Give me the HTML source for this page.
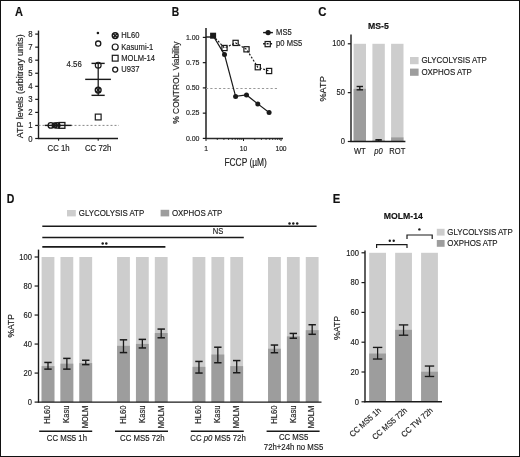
<!DOCTYPE html>
<html><head><meta charset="utf-8"><style>
html,body{margin:0;padding:0;background:#fff;}
body{width:520px;height:457px;overflow:hidden;position:relative;}
svg{display:block;font-family:"Liberation Sans",sans-serif;filter:blur(0.3px);}
.frame{position:absolute;left:0;top:0;width:520px;height:457px;box-sizing:border-box;border:1px solid #111;}
</style></head><body>
<svg width="520" height="457" viewBox="0 0 520 457">
<rect x="-5" y="-5" width="530" height="467" fill="#fff"/>
<text x="0" y="0" transform="translate(14.9,15.70) scale(0.92,1.0)" font-size="12" text-anchor="start" font-weight="bold" fill="#111" stroke="#111" stroke-width="0.15"  style="">A</text>
<line x1="38.5" y1="30.6" x2="38.5" y2="139.0" stroke="#1a1a1a" stroke-width="1.40" />
<line x1="37.9" y1="138.5" x2="118" y2="138.5" stroke="#1a1a1a" stroke-width="1.40" />
<line x1="35.2" y1="138.5" x2="38.5" y2="138.5" stroke="#1a1a1a" stroke-width="1.20" />
<text x="0" y="0" transform="translate(32.7,141.50) scale(1.0,1.08)" font-size="7.8" text-anchor="end" font-weight="normal" fill="#222" stroke="#222" stroke-width="0.15"  style="">0</text>
<line x1="35.2" y1="125.45" x2="38.5" y2="125.45" stroke="#1a1a1a" stroke-width="1.20" />
<text x="0" y="0" transform="translate(32.7,128.45) scale(1.0,1.08)" font-size="7.8" text-anchor="end" font-weight="normal" fill="#222" stroke="#222" stroke-width="0.15"  style="">1</text>
<line x1="35.2" y1="112.4" x2="38.5" y2="112.4" stroke="#1a1a1a" stroke-width="1.20" />
<text x="0" y="0" transform="translate(32.7,115.40) scale(1.0,1.08)" font-size="7.8" text-anchor="end" font-weight="normal" fill="#222" stroke="#222" stroke-width="0.15"  style="">2</text>
<line x1="35.2" y1="99.35" x2="38.5" y2="99.35" stroke="#1a1a1a" stroke-width="1.20" />
<text x="0" y="0" transform="translate(32.7,102.35) scale(1.0,1.08)" font-size="7.8" text-anchor="end" font-weight="normal" fill="#222" stroke="#222" stroke-width="0.15"  style="">3</text>
<line x1="35.2" y1="86.3" x2="38.5" y2="86.3" stroke="#1a1a1a" stroke-width="1.20" />
<text x="0" y="0" transform="translate(32.7,89.30) scale(1.0,1.08)" font-size="7.8" text-anchor="end" font-weight="normal" fill="#222" stroke="#222" stroke-width="0.15"  style="">4</text>
<line x1="35.2" y1="73.25" x2="38.5" y2="73.25" stroke="#1a1a1a" stroke-width="1.20" />
<text x="0" y="0" transform="translate(32.7,76.25) scale(1.0,1.08)" font-size="7.8" text-anchor="end" font-weight="normal" fill="#222" stroke="#222" stroke-width="0.15"  style="">5</text>
<line x1="35.2" y1="60.19999999999999" x2="38.5" y2="60.19999999999999" stroke="#1a1a1a" stroke-width="1.20" />
<text x="0" y="0" transform="translate(32.7,63.20) scale(1.0,1.08)" font-size="7.8" text-anchor="end" font-weight="normal" fill="#222" stroke="#222" stroke-width="0.15"  style="">6</text>
<line x1="35.2" y1="47.14999999999999" x2="38.5" y2="47.14999999999999" stroke="#1a1a1a" stroke-width="1.20" />
<text x="0" y="0" transform="translate(32.7,50.15) scale(1.0,1.08)" font-size="7.8" text-anchor="end" font-weight="normal" fill="#222" stroke="#222" stroke-width="0.15"  style="">7</text>
<line x1="35.2" y1="34.099999999999994" x2="38.5" y2="34.099999999999994" stroke="#1a1a1a" stroke-width="1.20" />
<text x="0" y="0" transform="translate(32.7,37.10) scale(1.0,1.08)" font-size="7.8" text-anchor="end" font-weight="normal" fill="#222" stroke="#222" stroke-width="0.15"  style="">8</text>
<line x1="38.5" y1="125.4" x2="119" y2="125.4" stroke="#888" stroke-width="1.00" stroke-dasharray="2,2"/>
<line x1="58.6" y1="138.5" x2="58.6" y2="140.7" stroke="#1a1a1a" stroke-width="1.10" />
<text x="0" y="0" transform="translate(58.6,151.30) scale(1.0,1.08)" font-size="7.8" text-anchor="middle" font-weight="normal" fill="#222" stroke="#222" stroke-width="0.15"  style="">CC 1h</text>
<line x1="98.2" y1="138.5" x2="98.2" y2="140.7" stroke="#1a1a1a" stroke-width="1.10" />
<text x="0" y="0" transform="translate(98.2,151.30) scale(1.0,1.08)" font-size="7.8" text-anchor="middle" font-weight="normal" fill="#222" stroke="#222" stroke-width="0.15"  style="">CC 72h</text>
<text x="0" y="0" font-size="8.9" text-anchor="middle" font-weight="normal" fill="#222" stroke="#222" stroke-width="0.15" transform="translate(23.1,86.2) rotate(-90) translate(0,-0.3) scale(1,1.08)">ATP levels (arbitrary units)</text>
<line x1="44.8" y1="125.4" x2="71.5" y2="125.4" stroke="#1a1a1a" stroke-width="1.40" />
<circle cx="50.8" cy="125.4" r="2.7" fill="none" stroke="#1a1a1a" stroke-width="1.3"/>
<circle cx="54.6" cy="125.4" r="2.4" fill="none" stroke="#1a1a1a" stroke-width="1.3"/>
<circle cx="57.2" cy="125.4" r="2.7" fill="none" stroke="#1a1a1a" stroke-width="1.4"/>
<path d="M55.3,123.5L59.1,127.30000000000001M59.1,123.5L55.3,127.30000000000001" stroke="#1a1a1a" stroke-width="1.2"/>
<rect x="59.0" y="122.5" width="5.9" height="5.8" fill="none" stroke="#1a1a1a" stroke-width="1.3"/>
<line x1="98.2" y1="63.382" x2="98.2" y2="95.346" stroke="#1a1a1a" stroke-width="1.30" />
<line x1="91.5" y1="63.382" x2="104.7" y2="63.382" stroke="#1a1a1a" stroke-width="1.40" />
<line x1="91.5" y1="95.346" x2="104.7" y2="95.346" stroke="#1a1a1a" stroke-width="1.40" />
<line x1="85.2" y1="79.364" x2="110.9" y2="79.364" stroke="#1a1a1a" stroke-width="1.40" />
<circle cx="98.2" cy="43.6" r="2.6" fill="none" stroke="#1a1a1a" stroke-width="1.3"/>
<circle cx="98.2" cy="65.14" r="2.9" fill="none" stroke="#1a1a1a" stroke-width="1.2"/>
<circle cx="98.2" cy="90.03" r="2.9" fill="none" stroke="#1a1a1a" stroke-width="1.4"/>
<path d="M96.2,88.03L100.2,92.03M100.2,88.03L96.2,92.03" stroke="#1a1a1a" stroke-width="1.3"/>
<rect x="95.3" y="114.116" width="5.8" height="5.8" fill="none" stroke="#1a1a1a" stroke-width="1.2"/>
<circle cx="97.9" cy="33" r="1.3" fill="#1a1a1a"/>
<text x="0" y="0" transform="translate(74.2,66.90) scale(1.0,1.08)" font-size="7.8" text-anchor="middle" font-weight="normal" fill="#222" stroke="#222" stroke-width="0.15"  style="">4.56</text>
<circle cx="115.2" cy="35.6" r="2.9" fill="none" stroke="#1a1a1a" stroke-width="1.5"/>
<path d="M113.3,33.7L117.10000000000001,37.5M117.10000000000001,33.7L113.3,37.5" stroke="#1a1a1a" stroke-width="1.4"/>
<circle cx="115.2" cy="47.0" r="3.0" fill="none" stroke="#1a1a1a" stroke-width="1.2"/>
<rect x="112.3" y="55.300000000000004" width="5.8" height="5.8" fill="none" stroke="#1a1a1a" stroke-width="1.2"/>
<circle cx="115.2" cy="69.6" r="2.5" fill="none" stroke="#1a1a1a" stroke-width="1.3"/>
<text x="0" y="0" transform="translate(121.3,38.30) scale(1.0,1.08)" font-size="7.6" text-anchor="start" font-weight="normal" fill="#222" stroke="#222" stroke-width="0.15"  style="">HL60</text>
<text x="0" y="0" transform="translate(121.3,49.70) scale(1.0,1.08)" font-size="7.6" text-anchor="start" font-weight="normal" fill="#222" stroke="#222" stroke-width="0.15"  style="">Kasumi-1</text>
<text x="0" y="0" transform="translate(121.3,60.90) scale(1.0,1.08)" font-size="7.6" text-anchor="start" font-weight="normal" fill="#222" stroke="#222" stroke-width="0.15"  style="">MOLM-14</text>
<text x="0" y="0" transform="translate(121.3,72.30) scale(1.0,1.08)" font-size="7.6" text-anchor="start" font-weight="normal" fill="#222" stroke="#222" stroke-width="0.15"  style="">U937</text>
<text x="0" y="0" transform="translate(171.8,15.70) scale(0.86,1.0)" font-size="12" text-anchor="start" font-weight="bold" fill="#111" stroke="#111" stroke-width="0.15"  style="">B</text>
<line x1="206.0" y1="28.0" x2="206.0" y2="138.9" stroke="#3a3a3a" stroke-width="1.70" />
<line x1="205.4" y1="138.4" x2="283" y2="138.4" stroke="#2a2a2a" stroke-width="1.50" />
<line x1="202.8" y1="138.4" x2="206.0" y2="138.4" stroke="#1a1a1a" stroke-width="1.20" />
<text x="0" y="0" transform="translate(199.5,140.60) scale(1.0,1.08)" font-size="7.0" text-anchor="end" font-weight="normal" fill="#222" stroke="#222" stroke-width="0.15"  style="">0.00</text>
<line x1="202.8" y1="113.15" x2="206.0" y2="113.15" stroke="#1a1a1a" stroke-width="1.20" />
<text x="0" y="0" transform="translate(199.5,115.35) scale(1.0,1.08)" font-size="7.0" text-anchor="end" font-weight="normal" fill="#222" stroke="#222" stroke-width="0.15"  style="">0.25</text>
<line x1="202.8" y1="87.9" x2="206.0" y2="87.9" stroke="#1a1a1a" stroke-width="1.20" />
<text x="0" y="0" transform="translate(199.5,90.10) scale(1.0,1.08)" font-size="7.0" text-anchor="end" font-weight="normal" fill="#222" stroke="#222" stroke-width="0.15"  style="">0.50</text>
<line x1="202.8" y1="62.650000000000006" x2="206.0" y2="62.650000000000006" stroke="#1a1a1a" stroke-width="1.20" />
<text x="0" y="0" transform="translate(199.5,64.85) scale(1.0,1.08)" font-size="7.0" text-anchor="end" font-weight="normal" fill="#222" stroke="#222" stroke-width="0.15"  style="">0.75</text>
<line x1="202.8" y1="37.400000000000006" x2="206.0" y2="37.400000000000006" stroke="#1a1a1a" stroke-width="1.20" />
<text x="0" y="0" transform="translate(199.5,39.60) scale(1.0,1.08)" font-size="7.0" text-anchor="end" font-weight="normal" fill="#222" stroke="#222" stroke-width="0.15"  style="">1.00</text>
<line x1="206.0" y1="138.4" x2="206.0" y2="141.0" stroke="#1a1a1a" stroke-width="1.00" />
<line x1="217.28862483739928" y1="138.4" x2="217.28862483739928" y2="139.8" stroke="#1a1a1a" stroke-width="1.00" />
<line x1="223.89204705198733" y1="138.4" x2="223.89204705198733" y2="139.8" stroke="#1a1a1a" stroke-width="1.00" />
<line x1="228.5772496747986" y1="138.4" x2="228.5772496747986" y2="139.8" stroke="#1a1a1a" stroke-width="1.00" />
<line x1="232.21137516260072" y1="138.4" x2="232.21137516260072" y2="139.8" stroke="#1a1a1a" stroke-width="1.00" />
<line x1="235.18067188938664" y1="138.4" x2="235.18067188938664" y2="139.8" stroke="#1a1a1a" stroke-width="1.00" />
<line x1="237.69117650053462" y1="138.4" x2="237.69117650053462" y2="139.8" stroke="#1a1a1a" stroke-width="1.00" />
<line x1="239.86587451219788" y1="138.4" x2="239.86587451219788" y2="139.8" stroke="#1a1a1a" stroke-width="1.00" />
<line x1="241.78409410397467" y1="138.4" x2="241.78409410397467" y2="139.8" stroke="#1a1a1a" stroke-width="1.00" />
<line x1="243.5" y1="138.4" x2="243.5" y2="141.0" stroke="#1a1a1a" stroke-width="1.00" />
<line x1="254.7886248373993" y1="138.4" x2="254.7886248373993" y2="139.8" stroke="#1a1a1a" stroke-width="1.00" />
<line x1="261.39204705198733" y1="138.4" x2="261.39204705198733" y2="139.8" stroke="#1a1a1a" stroke-width="1.00" />
<line x1="266.0772496747986" y1="138.4" x2="266.0772496747986" y2="139.8" stroke="#1a1a1a" stroke-width="1.00" />
<line x1="269.7113751626007" y1="138.4" x2="269.7113751626007" y2="139.8" stroke="#1a1a1a" stroke-width="1.00" />
<line x1="272.68067188938664" y1="138.4" x2="272.68067188938664" y2="139.8" stroke="#1a1a1a" stroke-width="1.00" />
<line x1="275.19117650053465" y1="138.4" x2="275.19117650053465" y2="139.8" stroke="#1a1a1a" stroke-width="1.00" />
<line x1="277.3658745121979" y1="138.4" x2="277.3658745121979" y2="139.8" stroke="#1a1a1a" stroke-width="1.00" />
<line x1="279.28409410397467" y1="138.4" x2="279.28409410397467" y2="139.8" stroke="#1a1a1a" stroke-width="1.00" />
<line x1="281.0" y1="138.4" x2="281.0" y2="141.0" stroke="#1a1a1a" stroke-width="1.00" />
<text x="0" y="0" transform="translate(206.0,151.30) scale(1.0,1.15)" font-size="6.7" text-anchor="middle" font-weight="normal" fill="#222" stroke="#222" stroke-width="0.15"  style="">1</text>
<text x="0" y="0" transform="translate(243.5,151.30) scale(1.0,1.15)" font-size="6.7" text-anchor="middle" font-weight="normal" fill="#222" stroke="#222" stroke-width="0.15"  style="">10</text>
<text x="0" y="0" transform="translate(281.0,151.30) scale(1.0,1.15)" font-size="6.7" text-anchor="middle" font-weight="normal" fill="#222" stroke="#222" stroke-width="0.15"  style="">100</text>
<text x="0" y="0" transform="translate(245.6,165.50) scale(1.0,1.2)" font-size="8.4" text-anchor="middle" font-weight="normal" fill="#222" stroke="#222" stroke-width="0.15"  style="">FCCP (µM)</text>
<text x="0" y="0" font-size="8.45" text-anchor="middle" font-weight="normal" fill="#222" stroke="#222" stroke-width="0.15" transform="translate(179.6,82.7) rotate(-90) translate(0,-0.3) scale(1,1.12)">% CONTROL Viability</text>
<line x1="206.0" y1="88.5" x2="279" y2="88.5" stroke="#999" stroke-width="1.10" stroke-dasharray="2.2,2.1"/>
<line x1="206.0" y1="37.0" x2="211.1" y2="37.0" stroke="#1a1a1a" stroke-width="1.40" />
<polyline points="213.1,35.7 224.5,48.0 235.6,42.9 246.5,49.3 257.8,67.2 269.1,71.0" fill="none" stroke="#1a1a1a" stroke-width="1.2" stroke-dasharray="2,1.6"/>
<polyline points="213.1,35.7 224.5,54.6 235.6,96.4 246.5,95.0 257.8,103.9 269.1,112.5" fill="none" stroke="#1a1a1a" stroke-width="1.2"/>
<rect x="221.9" y="45.4" width="5.2" height="5.2" fill="none" stroke="#1a1a1a" stroke-width="1.2"/>
<rect x="233.0" y="40.3" width="5.2" height="5.2" fill="none" stroke="#1a1a1a" stroke-width="1.2"/>
<rect x="243.9" y="46.699999999999996" width="5.2" height="5.2" fill="none" stroke="#1a1a1a" stroke-width="1.2"/>
<rect x="255.20000000000002" y="64.60000000000001" width="5.2" height="5.2" fill="none" stroke="#1a1a1a" stroke-width="1.2"/>
<rect x="266.5" y="68.4" width="5.2" height="5.2" fill="none" stroke="#1a1a1a" stroke-width="1.2"/>
<circle cx="224.5" cy="54.6" r="2.5" fill="#1a1a1a"/>
<circle cx="235.6" cy="96.4" r="2.5" fill="#1a1a1a"/>
<circle cx="246.5" cy="95.0" r="2.5" fill="#1a1a1a"/>
<circle cx="257.8" cy="103.9" r="2.5" fill="#1a1a1a"/>
<circle cx="269.1" cy="112.5" r="2.5" fill="#1a1a1a"/>
<rect x="210.1" y="32.7" width="6" height="6" fill="#1a1a1a"/>
<line x1="263.1" y1="32.6" x2="272.9" y2="32.6" stroke="#1a1a1a" stroke-width="1.40" />
<circle cx="268.1" cy="32.6" r="2.6" fill="#1a1a1a"/>
<text x="0" y="0" transform="translate(276.1,34.90) scale(1.0,1.08)" font-size="7.6" text-anchor="start" font-weight="normal" fill="#222" stroke="#222" stroke-width="0.15"  style="">MS5</text>
<line x1="263.1" y1="43.7" x2="272.9" y2="43.7" stroke="#1a1a1a" stroke-width="1.40" stroke-dasharray="2,1.5"/>
<rect x="265.09999999999997" y="41.5" width="5.2" height="5.2" fill="none" stroke="#1a1a1a" stroke-width="1.2"/>
<text x="0" y="0" transform="translate(276.1,46.00) scale(1.0,1.08)" font-size="7.6" text-anchor="start" font-weight="normal" fill="#222" stroke="#222" stroke-width="0.15"  style="">p0 MS5</text>
<text x="0" y="0" transform="translate(318.3,15.80) scale(0.95,1.0)" font-size="12" text-anchor="start" font-weight="bold" fill="#111" stroke="#111" stroke-width="0.15"  style="">C</text>
<text x="0" y="0" transform="translate(378.4,29.20) scale(1.0,1.0)" font-size="8.7" text-anchor="middle" font-weight="bold" fill="#111" stroke="#111" stroke-width="0.15"  style="">MS-5</text>
<rect x="353.6" y="43.8" width="12.4" height="97.7" fill="#cdcdcd" />
<rect x="353.6" y="88.8397" width="12.4" height="52.66030000000001" fill="#9d9d9d" />
<line x1="359.8" y1="86.4949" x2="359.8" y2="89.8167" stroke="#1a1a1a" stroke-width="1.30" />
<line x1="356.6" y1="86.4949" x2="363.0" y2="86.4949" stroke="#1a1a1a" stroke-width="1.40" />
<line x1="356.6" y1="89.8167" x2="363.0" y2="89.8167" stroke="#1a1a1a" stroke-width="1.40" />
<rect x="372.4" y="43.8" width="12.4" height="97.7" fill="#cdcdcd" />
<rect x="372.4" y="140.523" width="12.4" height="0.9770000000000039" fill="#9d9d9d" />
<line x1="378.59999999999997" y1="139.7414" x2="378.59999999999997" y2="141.1092" stroke="#1a1a1a" stroke-width="1.30" />
<line x1="375.4" y1="139.7414" x2="381.79999999999995" y2="139.7414" stroke="#1a1a1a" stroke-width="1.40" />
<line x1="375.4" y1="141.1092" x2="381.79999999999995" y2="141.1092" stroke="#1a1a1a" stroke-width="1.40" />
<rect x="391.1" y="43.8" width="12.4" height="97.7" fill="#cdcdcd" />
<rect x="391.1" y="137.3966" width="12.4" height="4.1033999999999935" fill="#9d9d9d" />
<line x1="351.0" y1="34.4" x2="351.0" y2="142.0" stroke="#1a1a1a" stroke-width="1.40" />
<line x1="350.4" y1="141.5" x2="405.4" y2="141.5" stroke="#1a1a1a" stroke-width="1.40" />
<line x1="347.8" y1="141.5" x2="351.0" y2="141.5" stroke="#1a1a1a" stroke-width="1.20" />
<text x="0" y="0" transform="translate(345.0,143.90) scale(1.0,1.08)" font-size="7.6" text-anchor="end" font-weight="normal" fill="#222" stroke="#222" stroke-width="0.15"  style="">0</text>
<line x1="347.8" y1="92.65" x2="351.0" y2="92.65" stroke="#1a1a1a" stroke-width="1.20" />
<text x="0" y="0" transform="translate(345.0,95.05) scale(1.0,1.08)" font-size="7.6" text-anchor="end" font-weight="normal" fill="#222" stroke="#222" stroke-width="0.15"  style="">50</text>
<line x1="347.8" y1="43.8" x2="351.0" y2="43.8" stroke="#1a1a1a" stroke-width="1.20" />
<text x="0" y="0" transform="translate(345.0,46.20) scale(1.0,1.08)" font-size="7.6" text-anchor="end" font-weight="normal" fill="#222" stroke="#222" stroke-width="0.15"  style="">100</text>
<text x="0" y="0" transform="translate(359.8,153.90) scale(1.0,1.08)" font-size="7.6" text-anchor="middle" font-weight="normal" fill="#222" stroke="#222" stroke-width="0.15"  style="">WT</text>
<text x="0" y="0" transform="translate(378.5,153.90) scale(1.0,1.08)" font-size="7.6" text-anchor="middle" font-weight="normal" fill="#222" stroke="#222" stroke-width="0.15"  style="font-style:italic">p0</text>
<text x="0" y="0" transform="translate(397.3,153.90) scale(1.0,1.08)" font-size="7.6" text-anchor="middle" font-weight="normal" fill="#222" stroke="#222" stroke-width="0.15"  style="">ROT</text>
<text x="0" y="0" font-size="9.2" text-anchor="middle" font-weight="normal" fill="#222" stroke="#222" stroke-width="0.15" transform="translate(326.2,88.9) rotate(-90) translate(0,-0.3) scale(1,1.08)">%ATP</text>
<rect x="410.0" y="57.0" width="8.6" height="7.2" fill="#cdcdcd" />
<rect x="410.0" y="68.6" width="8.6" height="7.2" fill="#9d9d9d" />
<text x="0" y="0" transform="translate(421.4,63.00) scale(1.0,1.08)" font-size="7.9" text-anchor="start" font-weight="normal" fill="#222" stroke="#222" stroke-width="0.15"  style="">GLYCOLYSIS ATP</text>
<text x="0" y="0" transform="translate(421.4,74.50) scale(1.0,1.08)" font-size="7.9" text-anchor="start" font-weight="normal" fill="#222" stroke="#222" stroke-width="0.15"  style="">OXPHOS ATP</text>
<text x="0" y="0" transform="translate(6.8,202.90) scale(0.88,1.0)" font-size="12" text-anchor="start" font-weight="bold" fill="#111" stroke="#111" stroke-width="0.15"  style="">D</text>
<rect x="67.0" y="210.0" width="8.8" height="6.4" fill="#cdcdcd" />
<text x="0" y="0" transform="translate(78.8,215.70) scale(1.0,1.08)" font-size="7.9" text-anchor="start" font-weight="normal" fill="#222" stroke="#222" stroke-width="0.15"  style="">GLYCOLYSIS ATP</text>
<rect x="160.6" y="209.8" width="8.6" height="6.6" fill="#9d9d9d" />
<text x="0" y="0" transform="translate(171.9,215.70) scale(1.0,1.08)" font-size="7.9" text-anchor="start" font-weight="normal" fill="#222" stroke="#222" stroke-width="0.15"  style="">OXPHOS ATP</text>
<line x1="42.3" y1="226.3" x2="316.6" y2="226.3" stroke="#1a1a1a" stroke-width="1.50" />
<line x1="42.3" y1="237.6" x2="243.8" y2="237.6" stroke="#1a1a1a" stroke-width="1.50" />
<line x1="42.3" y1="246.8" x2="165.4" y2="246.8" stroke="#1a1a1a" stroke-width="1.70" />
<circle cx="102.7" cy="243.5" r="1.25" fill="#1a1a1a"/>
<circle cx="106.3" cy="243.5" r="1.25" fill="#1a1a1a"/>
<text x="0" y="0" transform="translate(218.0,234.30) scale(1.0,1.08)" font-size="7.6" text-anchor="middle" font-weight="normal" fill="#222" stroke="#222" stroke-width="0.15"  style="">NS</text>
<circle cx="289.5" cy="223.4" r="1.25" fill="#1a1a1a"/>
<circle cx="293.3" cy="223.4" r="1.25" fill="#1a1a1a"/>
<circle cx="297.2" cy="223.4" r="1.25" fill="#1a1a1a"/>
<rect x="41.6" y="257.0" width="12.8" height="145.10000000000002" fill="#cdcdcd" />
<rect x="41.6" y="366.12500000000006" width="12.8" height="35.97499999999998" fill="#9d9d9d" />
<line x1="48.0" y1="362.4524" x2="48.0" y2="369.127" stroke="#1a1a1a" stroke-width="1.30" />
<line x1="44.3" y1="362.4524" x2="51.7" y2="362.4524" stroke="#1a1a1a" stroke-width="1.50" />
<line x1="44.3" y1="369.127" x2="51.7" y2="369.127" stroke="#1a1a1a" stroke-width="1.50" />
<text x="0" y="0" font-size="7.6" text-anchor="end" font-weight="normal" fill="#222" stroke="#222" stroke-width="0.15" transform="translate(50.6,405.6) rotate(-90) translate(0,-0.3) scale(1,1.08)">HL60</text>
<rect x="60.47" y="257.0" width="12.8" height="145.10000000000002" fill="#cdcdcd" />
<rect x="60.47" y="363.6583" width="12.8" height="38.44170000000004" fill="#9d9d9d" />
<line x1="66.87" y1="358.3896" x2="66.87" y2="369.127" stroke="#1a1a1a" stroke-width="1.30" />
<line x1="63.17" y1="358.3896" x2="70.57000000000001" y2="358.3896" stroke="#1a1a1a" stroke-width="1.50" />
<line x1="63.17" y1="369.127" x2="70.57000000000001" y2="369.127" stroke="#1a1a1a" stroke-width="1.50" />
<text x="0" y="0" font-size="7.6" text-anchor="end" font-weight="normal" fill="#222" stroke="#222" stroke-width="0.15" transform="translate(69.47,405.6) rotate(-90) translate(0,-0.3) scale(1,1.08)">Kasu</text>
<rect x="79.34" y="257.0" width="12.8" height="145.10000000000002" fill="#cdcdcd" />
<rect x="79.34" y="363.0779" width="12.8" height="39.02210000000004" fill="#9d9d9d" />
<line x1="85.74000000000001" y1="360.2759" x2="85.74000000000001" y2="364.6289" stroke="#1a1a1a" stroke-width="1.30" />
<line x1="82.04" y1="360.2759" x2="89.44000000000001" y2="360.2759" stroke="#1a1a1a" stroke-width="1.50" />
<line x1="82.04" y1="364.6289" x2="89.44000000000001" y2="364.6289" stroke="#1a1a1a" stroke-width="1.50" />
<text x="0" y="0" font-size="7.6" text-anchor="end" font-weight="normal" fill="#222" stroke="#222" stroke-width="0.15" transform="translate(88.34,405.6) rotate(-90) translate(0,-0.3) scale(1,1.08)">MOLM</text>
<rect x="117.08000000000001" y="257.0" width="12.8" height="145.10000000000002" fill="#cdcdcd" />
<rect x="117.08000000000001" y="345.81100000000004" width="12.8" height="56.289" fill="#9d9d9d" />
<line x1="123.48000000000002" y1="339.8168" x2="123.48000000000002" y2="352.5856" stroke="#1a1a1a" stroke-width="1.30" />
<line x1="119.78000000000002" y1="339.8168" x2="127.18000000000002" y2="339.8168" stroke="#1a1a1a" stroke-width="1.50" />
<line x1="119.78000000000002" y1="352.5856" x2="127.18000000000002" y2="352.5856" stroke="#1a1a1a" stroke-width="1.50" />
<text x="0" y="0" font-size="7.6" text-anchor="end" font-weight="normal" fill="#222" stroke="#222" stroke-width="0.15" transform="translate(126.08000000000001,405.6) rotate(-90) translate(0,-0.3) scale(1,1.08)">HL60</text>
<rect x="135.95000000000002" y="257.0" width="12.8" height="145.10000000000002" fill="#cdcdcd" />
<rect x="135.95000000000002" y="343.92470000000003" width="12.8" height="58.17530000000001" fill="#9d9d9d" />
<line x1="142.35000000000002" y1="339.38149999999996" x2="142.35000000000002" y2="347.94239999999996" stroke="#1a1a1a" stroke-width="1.30" />
<line x1="138.65000000000003" y1="339.38149999999996" x2="146.05" y2="339.38149999999996" stroke="#1a1a1a" stroke-width="1.50" />
<line x1="138.65000000000003" y1="347.94239999999996" x2="146.05" y2="347.94239999999996" stroke="#1a1a1a" stroke-width="1.50" />
<text x="0" y="0" font-size="7.6" text-anchor="end" font-weight="normal" fill="#222" stroke="#222" stroke-width="0.15" transform="translate(144.95000000000002,405.6) rotate(-90) translate(0,-0.3) scale(1,1.08)">Kasu</text>
<rect x="154.82" y="257.0" width="12.8" height="145.10000000000002" fill="#cdcdcd" />
<rect x="154.82" y="333.04220000000004" width="12.8" height="69.0578" fill="#9d9d9d" />
<line x1="161.22" y1="329.07939999999996" x2="161.22" y2="337.7854" stroke="#1a1a1a" stroke-width="1.30" />
<line x1="157.52" y1="329.07939999999996" x2="164.92" y2="329.07939999999996" stroke="#1a1a1a" stroke-width="1.50" />
<line x1="157.52" y1="337.7854" x2="164.92" y2="337.7854" stroke="#1a1a1a" stroke-width="1.50" />
<text x="0" y="0" font-size="7.6" text-anchor="end" font-weight="normal" fill="#222" stroke="#222" stroke-width="0.15" transform="translate(163.82,405.6) rotate(-90) translate(0,-0.3) scale(1,1.08)">MOLM</text>
<rect x="192.56" y="257.0" width="12.8" height="145.10000000000002" fill="#cdcdcd" />
<rect x="192.56" y="366.8505" width="12.8" height="35.249500000000026" fill="#9d9d9d" />
<line x1="198.96" y1="361.4367" x2="198.96" y2="373.0447" stroke="#1a1a1a" stroke-width="1.30" />
<line x1="195.26000000000002" y1="361.4367" x2="202.66" y2="361.4367" stroke="#1a1a1a" stroke-width="1.50" />
<line x1="195.26000000000002" y1="373.0447" x2="202.66" y2="373.0447" stroke="#1a1a1a" stroke-width="1.50" />
<text x="0" y="0" font-size="7.6" text-anchor="end" font-weight="normal" fill="#222" stroke="#222" stroke-width="0.15" transform="translate(201.56,405.6) rotate(-90) translate(0,-0.3) scale(1,1.08)">HL60</text>
<rect x="211.43" y="257.0" width="12.8" height="145.10000000000002" fill="#cdcdcd" />
<rect x="211.43" y="354.517" width="12.8" height="47.58300000000004" fill="#9d9d9d" />
<line x1="217.83" y1="347.2169" x2="217.83" y2="362.7426" stroke="#1a1a1a" stroke-width="1.30" />
<line x1="214.13000000000002" y1="347.2169" x2="221.53" y2="347.2169" stroke="#1a1a1a" stroke-width="1.50" />
<line x1="214.13000000000002" y1="362.7426" x2="221.53" y2="362.7426" stroke="#1a1a1a" stroke-width="1.50" />
<text x="0" y="0" font-size="7.6" text-anchor="end" font-weight="normal" fill="#222" stroke="#222" stroke-width="0.15" transform="translate(220.43,405.6) rotate(-90) translate(0,-0.3) scale(1,1.08)">Kasu</text>
<rect x="230.3" y="257.0" width="12.8" height="145.10000000000002" fill="#cdcdcd" />
<rect x="230.3" y="366.12500000000006" width="12.8" height="35.97499999999998" fill="#9d9d9d" />
<line x1="236.70000000000002" y1="360.5661" x2="236.70000000000002" y2="372.7545" stroke="#1a1a1a" stroke-width="1.30" />
<line x1="233.00000000000003" y1="360.5661" x2="240.4" y2="360.5661" stroke="#1a1a1a" stroke-width="1.50" />
<line x1="233.00000000000003" y1="372.7545" x2="240.4" y2="372.7545" stroke="#1a1a1a" stroke-width="1.50" />
<text x="0" y="0" font-size="7.6" text-anchor="end" font-weight="normal" fill="#222" stroke="#222" stroke-width="0.15" transform="translate(239.3,405.6) rotate(-90) translate(0,-0.3) scale(1,1.08)">MOLM</text>
<rect x="268.04" y="257.0" width="12.8" height="145.10000000000002" fill="#cdcdcd" />
<rect x="268.04" y="348.713" width="12.8" height="53.387000000000015" fill="#9d9d9d" />
<line x1="274.44" y1="345.0404" x2="274.44" y2="352.7307" stroke="#1a1a1a" stroke-width="1.30" />
<line x1="270.74" y1="345.0404" x2="278.14" y2="345.0404" stroke="#1a1a1a" stroke-width="1.50" />
<line x1="270.74" y1="352.7307" x2="278.14" y2="352.7307" stroke="#1a1a1a" stroke-width="1.50" />
<text x="0" y="0" font-size="7.6" text-anchor="end" font-weight="normal" fill="#222" stroke="#222" stroke-width="0.15" transform="translate(277.04,405.6) rotate(-90) translate(0,-0.3) scale(1,1.08)">HL60</text>
<rect x="286.91" y="257.0" width="12.8" height="145.10000000000002" fill="#cdcdcd" />
<rect x="286.91" y="336.3795" width="12.8" height="65.72050000000003" fill="#9d9d9d" />
<line x1="293.31" y1="333.4324" x2="293.31" y2="338.22069999999997" stroke="#1a1a1a" stroke-width="1.30" />
<line x1="289.61" y1="333.4324" x2="297.01" y2="333.4324" stroke="#1a1a1a" stroke-width="1.50" />
<line x1="289.61" y1="338.22069999999997" x2="297.01" y2="338.22069999999997" stroke="#1a1a1a" stroke-width="1.50" />
<text x="0" y="0" font-size="7.6" text-anchor="end" font-weight="normal" fill="#222" stroke="#222" stroke-width="0.15" transform="translate(295.91,405.6) rotate(-90) translate(0,-0.3) scale(1,1.08)">Kasu</text>
<rect x="305.78000000000003" y="257.0" width="12.8" height="145.10000000000002" fill="#cdcdcd" />
<rect x="305.78000000000003" y="330.1402" width="12.8" height="71.95980000000004" fill="#9d9d9d" />
<line x1="312.18" y1="324.7264" x2="312.18" y2="334.303" stroke="#1a1a1a" stroke-width="1.30" />
<line x1="308.48" y1="324.7264" x2="315.88" y2="324.7264" stroke="#1a1a1a" stroke-width="1.50" />
<line x1="308.48" y1="334.303" x2="315.88" y2="334.303" stroke="#1a1a1a" stroke-width="1.50" />
<text x="0" y="0" font-size="7.6" text-anchor="end" font-weight="normal" fill="#222" stroke="#222" stroke-width="0.15" transform="translate(314.78000000000003,405.6) rotate(-90) translate(0,-0.3) scale(1,1.08)">MOLM</text>
<line x1="38.5" y1="249.6" x2="38.5" y2="402.6" stroke="#1a1a1a" stroke-width="1.40" />
<line x1="37.9" y1="402.1" x2="321.5" y2="402.1" stroke="#1a1a1a" stroke-width="1.40" />
<line x1="34.6" y1="402.1" x2="38.5" y2="402.1" stroke="#1a1a1a" stroke-width="1.20" />
<text x="0" y="0" transform="translate(32.0,404.90) scale(1.0,1.08)" font-size="7.6" text-anchor="end" font-weight="normal" fill="#222" stroke="#222" stroke-width="0.15"  style="">0</text>
<line x1="34.6" y1="373.08000000000004" x2="38.5" y2="373.08000000000004" stroke="#1a1a1a" stroke-width="1.20" />
<text x="0" y="0" transform="translate(32.0,375.88) scale(1.0,1.08)" font-size="7.6" text-anchor="end" font-weight="normal" fill="#222" stroke="#222" stroke-width="0.15"  style="">20</text>
<line x1="34.6" y1="344.06" x2="38.5" y2="344.06" stroke="#1a1a1a" stroke-width="1.20" />
<text x="0" y="0" transform="translate(32.0,346.86) scale(1.0,1.08)" font-size="7.6" text-anchor="end" font-weight="normal" fill="#222" stroke="#222" stroke-width="0.15"  style="">40</text>
<line x1="34.6" y1="315.04" x2="38.5" y2="315.04" stroke="#1a1a1a" stroke-width="1.20" />
<text x="0" y="0" transform="translate(32.0,317.84) scale(1.0,1.08)" font-size="7.6" text-anchor="end" font-weight="normal" fill="#222" stroke="#222" stroke-width="0.15"  style="">60</text>
<line x1="34.6" y1="286.02" x2="38.5" y2="286.02" stroke="#1a1a1a" stroke-width="1.20" />
<text x="0" y="0" transform="translate(32.0,288.82) scale(1.0,1.08)" font-size="7.6" text-anchor="end" font-weight="normal" fill="#222" stroke="#222" stroke-width="0.15"  style="">80</text>
<line x1="34.6" y1="257.0" x2="38.5" y2="257.0" stroke="#1a1a1a" stroke-width="1.20" />
<text x="0" y="0" transform="translate(32.0,259.80) scale(1.0,1.08)" font-size="7.6" text-anchor="end" font-weight="normal" fill="#222" stroke="#222" stroke-width="0.15"  style="">100</text>
<text x="0" y="0" font-size="8.5" text-anchor="middle" font-weight="normal" fill="#222" stroke="#222" stroke-width="0.15" transform="translate(14.4,325.8) rotate(-90) translate(0,-0.3) scale(1,1.08)">%ATP</text>
<line x1="39.2" y1="431.2" x2="92.2" y2="431.2" stroke="#1a1a1a" stroke-width="1.50" />
<line x1="115.0" y1="431.2" x2="168.0" y2="431.2" stroke="#1a1a1a" stroke-width="1.50" />
<line x1="190.8" y1="431.2" x2="243.8" y2="431.2" stroke="#1a1a1a" stroke-width="1.50" />
<line x1="266.59999999999997" y1="431.2" x2="319.59999999999997" y2="431.2" stroke="#1a1a1a" stroke-width="1.50" />
<text x="0" y="0" transform="translate(66.9,440.60) scale(1.0,1.08)" font-size="7.8" text-anchor="middle" font-weight="normal" fill="#222" stroke="#222" stroke-width="0.15"  style="">CC MS5 1h</text>
<text x="0" y="0" transform="translate(142.4,440.60) scale(1.0,1.08)" font-size="7.8" text-anchor="middle" font-weight="normal" fill="#222" stroke="#222" stroke-width="0.15"  style="">CC MS5 72h</text>
<text x="0" y="0" transform="translate(218.0,441.30) scale(1.0,1.08)" font-size="7.8" text-anchor="middle" font-weight="normal" fill="#222" stroke="#222" stroke-width="0.15"  style="">CC <tspan font-style="italic">p0</tspan> MS5 72h</text>
<text x="0" y="0" transform="translate(293.6,440.30) scale(1.0,1.08)" font-size="7.8" text-anchor="middle" font-weight="normal" fill="#222" stroke="#222" stroke-width="0.15"  style="">CC MS5</text>
<text x="0" y="0" transform="translate(293.6,450.10) scale(1.0,1.08)" font-size="7.8" text-anchor="middle" font-weight="normal" fill="#222" stroke="#222" stroke-width="0.15"  style="">72h+24h no MS5</text>
<text x="0" y="0" transform="translate(332.7,203.00) scale(0.94,1.0)" font-size="12" text-anchor="start" font-weight="bold" fill="#111" stroke="#111" stroke-width="0.15"  style="">E</text>
<text x="0" y="0" transform="translate(403.3,219.30) scale(1.0,1.0)" font-size="8.7" text-anchor="middle" font-weight="bold" fill="#111" stroke="#111" stroke-width="0.15"  style="">MOLM-14</text>
<rect x="369.2" y="252.8" width="16.8" height="149.0" fill="#cdcdcd" />
<rect x="369.2" y="353.524" width="16.8" height="48.27600000000001" fill="#9d9d9d" />
<line x1="377.59999999999997" y1="347.41900000000004" x2="377.59999999999997" y2="359.04100000000005" stroke="#1a1a1a" stroke-width="1.25" />
<line x1="372.9" y1="347.41900000000004" x2="382.29999999999995" y2="347.41900000000004" stroke="#1a1a1a" stroke-width="1.35" />
<line x1="372.9" y1="359.04100000000005" x2="382.29999999999995" y2="359.04100000000005" stroke="#1a1a1a" stroke-width="1.35" />
<rect x="395.15" y="252.8" width="16.8" height="149.0" fill="#cdcdcd" />
<rect x="395.15" y="329.833" width="16.8" height="71.96699999999998" fill="#9d9d9d" />
<line x1="403.54999999999995" y1="324.92" x2="403.54999999999995" y2="335.201" stroke="#1a1a1a" stroke-width="1.25" />
<line x1="398.84999999999997" y1="324.92" x2="408.24999999999994" y2="324.92" stroke="#1a1a1a" stroke-width="1.35" />
<line x1="398.84999999999997" y1="335.201" x2="408.24999999999994" y2="335.201" stroke="#1a1a1a" stroke-width="1.35" />
<rect x="421.09999999999997" y="252.8" width="16.8" height="149.0" fill="#cdcdcd" />
<rect x="421.09999999999997" y="371.702" width="16.8" height="30.098000000000013" fill="#9d9d9d" />
<line x1="429.49999999999994" y1="366.04400000000004" x2="429.49999999999994" y2="376.47400000000005" stroke="#1a1a1a" stroke-width="1.25" />
<line x1="424.79999999999995" y1="366.04400000000004" x2="434.19999999999993" y2="366.04400000000004" stroke="#1a1a1a" stroke-width="1.35" />
<line x1="424.79999999999995" y1="376.47400000000005" x2="434.19999999999993" y2="376.47400000000005" stroke="#1a1a1a" stroke-width="1.35" />
<line x1="365.0" y1="250.4" x2="365.0" y2="402.3" stroke="#1a1a1a" stroke-width="1.40" />
<line x1="364.4" y1="401.8" x2="442.0" y2="401.8" stroke="#1a1a1a" stroke-width="1.40" />
<line x1="361.5" y1="401.8" x2="365.0" y2="401.8" stroke="#1a1a1a" stroke-width="1.20" />
<text x="0" y="0" transform="translate(359.0,404.60) scale(1.0,1.08)" font-size="7.6" text-anchor="end" font-weight="normal" fill="#222" stroke="#222" stroke-width="0.15"  style="">0</text>
<line x1="361.5" y1="372.0" x2="365.0" y2="372.0" stroke="#1a1a1a" stroke-width="1.20" />
<text x="0" y="0" transform="translate(359.0,374.80) scale(1.0,1.08)" font-size="7.6" text-anchor="end" font-weight="normal" fill="#222" stroke="#222" stroke-width="0.15"  style="">20</text>
<line x1="361.5" y1="342.2" x2="365.0" y2="342.2" stroke="#1a1a1a" stroke-width="1.20" />
<text x="0" y="0" transform="translate(359.0,345.00) scale(1.0,1.08)" font-size="7.6" text-anchor="end" font-weight="normal" fill="#222" stroke="#222" stroke-width="0.15"  style="">40</text>
<line x1="361.5" y1="312.4" x2="365.0" y2="312.4" stroke="#1a1a1a" stroke-width="1.20" />
<text x="0" y="0" transform="translate(359.0,315.20) scale(1.0,1.08)" font-size="7.6" text-anchor="end" font-weight="normal" fill="#222" stroke="#222" stroke-width="0.15"  style="">60</text>
<line x1="361.5" y1="282.6" x2="365.0" y2="282.6" stroke="#1a1a1a" stroke-width="1.20" />
<text x="0" y="0" transform="translate(359.0,285.40) scale(1.0,1.08)" font-size="7.6" text-anchor="end" font-weight="normal" fill="#222" stroke="#222" stroke-width="0.15"  style="">80</text>
<line x1="361.5" y1="252.8" x2="365.0" y2="252.8" stroke="#1a1a1a" stroke-width="1.20" />
<text x="0" y="0" transform="translate(359.0,255.60) scale(1.0,1.08)" font-size="7.6" text-anchor="end" font-weight="normal" fill="#222" stroke="#222" stroke-width="0.15"  style="">100</text>
<text x="0" y="0" font-size="8.7" text-anchor="middle" font-weight="normal" fill="#222" stroke="#222" stroke-width="0.15" transform="translate(340.5,328.0) rotate(-90) translate(0,-0.3) scale(1,1.08)">%ATP</text>
<path d="M376.6,248V244.6H407V248" fill="none" stroke="#1a1a1a" stroke-width="1.2"/>
<path d="M407,239V235H432.2V239" fill="none" stroke="#1a1a1a" stroke-width="1.2"/>
<circle cx="389.8" cy="240.7" r="1.2" fill="#1a1a1a"/>
<circle cx="393.7" cy="240.7" r="1.2" fill="#1a1a1a"/>
<circle cx="419.4" cy="229.4" r="1.2" fill="#1a1a1a"/>
<rect x="436.8" y="228.8" width="7.8" height="6.8" fill="#cdcdcd" />
<rect x="436.8" y="240.0" width="7.8" height="6.8" fill="#9d9d9d" />
<text x="0" y="0" transform="translate(447.3,234.50) scale(1.0,1.08)" font-size="7.9" text-anchor="start" font-weight="normal" fill="#222" stroke="#222" stroke-width="0.15"  style="">GLYCOLYSIS ATP</text>
<text x="0" y="0" transform="translate(447.3,245.70) scale(1.0,1.08)" font-size="7.9" text-anchor="start" font-weight="normal" fill="#222" stroke="#222" stroke-width="0.15"  style="">OXPHOS ATP</text>
<text x="0" y="0" font-size="7.6" text-anchor="end" font-weight="normal" fill="#222" stroke="#222" stroke-width="0.15" transform="translate(381.8,411.5) rotate(-42) translate(0,-0.3) scale(1,1.08)">CC MS5 1h</text>
<text x="0" y="0" font-size="7.6" text-anchor="end" font-weight="normal" fill="#222" stroke="#222" stroke-width="0.15" transform="translate(407.75,411.5) rotate(-42) translate(0,-0.3) scale(1,1.08)">CC MS5 72h</text>
<text x="0" y="0" font-size="7.6" text-anchor="end" font-weight="normal" fill="#222" stroke="#222" stroke-width="0.15" transform="translate(433.7,411.5) rotate(-42) translate(0,-0.3) scale(1,1.08)">CC TW 72h</text>
</svg>
<div class="frame"></div>
</body></html>
